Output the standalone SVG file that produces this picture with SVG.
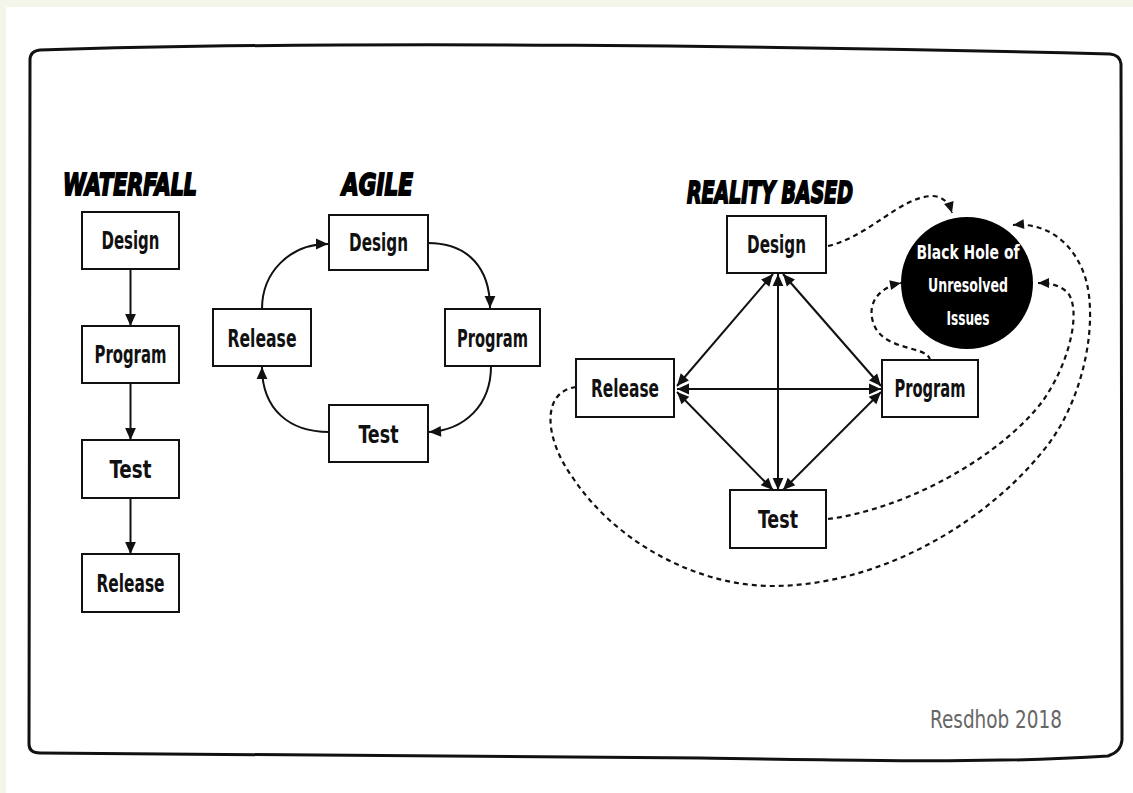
<svg xmlns="http://www.w3.org/2000/svg" width="1133" height="793" viewBox="0 0 1133 793">
<style>
.box{fill:#fff;stroke:#111;stroke-width:2}
.lbl{font-family:"DejaVu Sans Condensed","DejaVu Sans",sans-serif;font-weight:bold;font-size:25px;fill:#111;text-anchor:middle}
.ttl{font-family:"DejaVu Sans","Liberation Sans",sans-serif;font-weight:bold;font-style:oblique;font-size:30px;fill:#000;stroke:#000;stroke-width:2}
.hole{font-family:"DejaVu Sans Condensed","DejaVu Sans",sans-serif;font-weight:bold;font-size:20px;fill:#fff;text-anchor:middle}
.arr{fill:none;stroke:#111;stroke-width:2}
.dash{fill:none;stroke:#111;stroke-width:2.2;stroke-dasharray:5 4}
</style>
<defs>
<marker id="ah" viewBox="0 0 10 10" refX="10" refY="5" markerWidth="15" markerHeight="12" markerUnits="userSpaceOnUse" orient="auto-start-reverse">
<path d="M0,0.5 L10,5 L0,9.5 Z" fill="#111"/>
</marker>
<marker id="ahs" viewBox="0 0 10 10" refX="10" refY="5" markerWidth="13" markerHeight="11" markerUnits="userSpaceOnUse" orient="auto-start-reverse">
<path d="M0,0.5 L10,5 L0,9.5 Z" fill="#111"/>
</marker>
</defs>
<rect x="0" y="0" width="1133" height="793" fill="#fff"/>
<rect x="0" y="0" width="1133" height="7" fill="#f3f5ea"/>
<rect x="0" y="0" width="6" height="793" fill="#f3f5ea"/>
<path id="frame" d="M30,60 Q30,51 40,50 C350,40 800,46 1110,54 Q1120,55 1121,64 L1122,740 Q1121,752 1108,756 C1000,763 900,761 700,758 C400,755 200,753 40,753 Q29,753 29,744 Z" fill="none" stroke="#111" stroke-width="3"/>

<g id="titles">
<text class="ttl" x="63" y="195" textLength="134" lengthAdjust="spacingAndGlyphs">WATERFALL</text>
<text class="ttl" x="342" y="195" textLength="71" lengthAdjust="spacingAndGlyphs">AGILE</text>
<text class="ttl" x="687" y="203" textLength="166" lengthAdjust="spacingAndGlyphs">REALITY BASED</text>
</g>

<g id="connectors">
<line class="arr" x1="130.5" y1="269" x2="130.5" y2="326" marker-end="url(#ah)"/>
<line class="arr" x1="130.5" y1="383" x2="130.5" y2="440" marker-end="url(#ah)"/>
<line class="arr" x1="130.5" y1="498" x2="130.5" y2="554" marker-end="url(#ah)"/>

<path class="arr" d="M428,243 C468,243 490,268 490,308" marker-end="url(#ah)"/>
<path class="arr" d="M491,366 C491,405 465,430 429,432" marker-end="url(#ah)"/>
<path class="arr" d="M329,432 C290,432 262,410 262,367" marker-end="url(#ah)"/>
<path class="arr" d="M262,309 C262,272 290,244 328,244" marker-end="url(#ah)"/>

<line class="arr" x1="677" y1="386" x2="773" y2="274" marker-start="url(#ah)" marker-end="url(#ah)"/>
<line class="arr" x1="783" y1="274" x2="881" y2="386" marker-start="url(#ah)" marker-end="url(#ah)"/>
<line class="arr" x1="677" y1="389" x2="881" y2="389" marker-start="url(#ah)" marker-end="url(#ah)"/>
<line class="arr" x1="677" y1="392" x2="773" y2="490" marker-start="url(#ah)" marker-end="url(#ah)"/>
<line class="arr" x1="881" y1="392" x2="783" y2="490" marker-start="url(#ah)" marker-end="url(#ah)"/>
<line class="arr" x1="778" y1="274" x2="778" y2="490" marker-start="url(#ah)" marker-end="url(#ah)"/>

<path class="dash" d="M828,246 C870,236 900,197 932,196 C943,196 949,203 952,213" marker-end="url(#ahs)"/>
<path class="dash" d="M930,360 C928,345 882,352 873,322 C867,302 880,287 901,283" marker-end="url(#ahs)"/>
<path class="dash" d="M828,519 C900,510 995,462 1042,402 C1072,360 1082,305 1066,291 C1058,285 1050,283 1038,283" marker-end="url(#ahs)"/>
<path class="dash" d="M576,387 C540,392 545,440 573,478 C618,545 700,586 772,586 C880,586 990,522 1050,442 C1086,392 1097,320 1086,280 C1076,246 1050,222 1013,225" marker-end="url(#ahs)"/>
</g>

<g id="wf-design"><rect class="box" x="82" y="212" width="97" height="57"/><text class="lbl" x="130.5" y="249" textLength="58" lengthAdjust="spacingAndGlyphs">Design</text></g>
<g id="wf-program"><rect class="box" x="82" y="326" width="97" height="57"/><text class="lbl" x="130.5" y="363" textLength="72" lengthAdjust="spacingAndGlyphs">Program</text></g>
<g id="wf-test"><rect class="box" x="82" y="440" width="97" height="58"/><text class="lbl" x="130.5" y="478" textLength="42" lengthAdjust="spacingAndGlyphs">Test</text></g>
<g id="wf-release"><rect class="box" x="82" y="554" width="97" height="58"/><text class="lbl" x="130.5" y="592" textLength="68" lengthAdjust="spacingAndGlyphs">Release</text></g>

<g id="ag-design"><rect class="box" x="329" y="215" width="99" height="55"/><text class="lbl" x="378.5" y="251" textLength="59" lengthAdjust="spacingAndGlyphs">Design</text></g>
<g id="ag-release"><rect class="box" x="213" y="309" width="98" height="57"/><text class="lbl" x="262" y="347" textLength="69" lengthAdjust="spacingAndGlyphs">Release</text></g>
<g id="ag-program"><rect class="box" x="445" y="309" width="95" height="57"/><text class="lbl" x="492.5" y="347" textLength="71" lengthAdjust="spacingAndGlyphs">Program</text></g>
<g id="ag-test"><rect class="box" x="329" y="405" width="99" height="57"/><text class="lbl" x="378.5" y="443" textLength="40" lengthAdjust="spacingAndGlyphs">Test</text></g>

<g id="rb-design"><rect class="box" x="727" y="216" width="99" height="57"/><text class="lbl" x="776.5" y="253" textLength="59" lengthAdjust="spacingAndGlyphs">Design</text></g>
<g id="rb-release"><rect class="box" x="576" y="359" width="98" height="58"/><text class="lbl" x="625" y="397" textLength="68" lengthAdjust="spacingAndGlyphs">Release</text></g>
<g id="rb-program"><rect class="box" x="882" y="360" width="96" height="57"/><text class="lbl" x="930" y="397" textLength="71" lengthAdjust="spacingAndGlyphs">Program</text></g>
<g id="rb-test"><rect class="box" x="730" y="490" width="96" height="58"/><text class="lbl" x="778" y="528" textLength="40" lengthAdjust="spacingAndGlyphs">Test</text></g>

<g id="black-hole">
<circle cx="967" cy="283" r="66" fill="#000"/>
<text class="hole" x="968" y="259" textLength="103" lengthAdjust="spacingAndGlyphs">Black Hole of</text>
<text class="hole" x="968" y="292" textLength="80" lengthAdjust="spacingAndGlyphs">Unresolved</text>
<text class="hole" x="968" y="325" textLength="43" lengthAdjust="spacingAndGlyphs">Issues</text>
</g>

<text x="930" y="728" font-family="DejaVu Sans, sans-serif" font-size="24" fill="#666" textLength="132" lengthAdjust="spacingAndGlyphs">Resdhob 2018</text>
</svg>
